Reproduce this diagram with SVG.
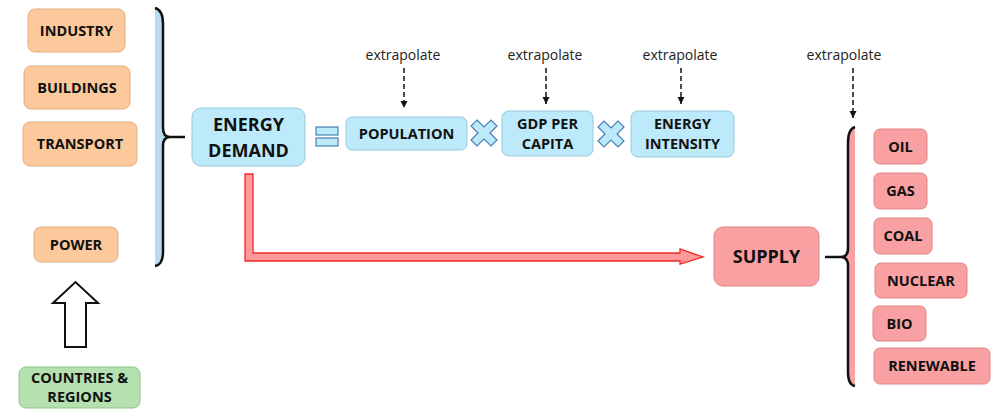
<svg xmlns="http://www.w3.org/2000/svg" width="998" height="409" viewBox="0 0 998 409">
<defs>
<style>
.t{font-family:"Open Sans","Liberation Sans",sans-serif;font-weight:700;fill:#111;text-anchor:middle}
.s{font-size:14.5px}
.b{font-size:18px}
.x{font-family:"Open Sans","Liberation Sans",sans-serif;font-size:14px;fill:#222;text-anchor:middle}
.or{fill:#FBC99B;stroke:#E2AE82;stroke-width:1}
.bl{fill:#BDEAFA;stroke:#98C8DA;stroke-width:1}
.pk{fill:#F8A0A2;stroke:#E08587;stroke-width:1}
.gr{fill:#B5E0AF;stroke:#8FC28A;stroke-width:1}
.dash{stroke:#111;stroke-width:1.5;stroke-dasharray:5,3;fill:none}
.cross{fill:#BDEAFA;stroke:#4A7FB5;stroke-width:1.2}
</style>
<marker id="ah" viewBox="0 0 10 10" refX="10" refY="5" markerWidth="5" markerHeight="5" orient="auto" markerUnits="strokeWidth">
<path d="M0,0 L10,5 L0,10 z" fill="#111"/>
</marker>
</defs>
<rect width="998" height="409" fill="#fff"/>

<g id="industry"><rect class="or" x="28" y="9" width="97" height="43" rx="7"/><text class="t s" x="76.5" y="35.5">INDUSTRY</text></g>
<g id="buildings"><rect class="or" x="24" y="66" width="106" height="43" rx="7"/><text class="t s" x="77" y="92.5">BUILDINGS</text></g>
<g id="transport"><rect class="or" x="23" y="122" width="114" height="44" rx="7"/><text class="t s" x="80" y="149">TRANSPORT</text></g>
<g id="power"><rect class="or" x="34" y="227" width="84" height="35" rx="7"/><text class="t s" x="76" y="249.5">POWER</text></g>
<g id="countries"><rect class="gr" x="19" y="367" width="121" height="41" rx="7"/><text class="t s" x="79.5" y="383">COUNTRIES &amp;</text><text class="t s" x="79.5" y="402">REGIONS</text></g>

<g id="demand-brace">
<path d="M155,8 Q163,10 163,24 L163,128 Q163,137 170,137 Q163,137 163,146 L163,252 Q163,265 155,266 Z" fill="#B8DCF0"/>
<path d="M155,8 Q163,10 163,24 L163,128 Q163,137 170,137 L185,137 M170,137 Q163,137 163,146 L163,252 Q163,265 155,266" fill="none" stroke="#111" stroke-width="2.5"/>
</g>

<g id="energy-demand"><rect class="bl" x="192" y="108" width="113" height="58" rx="9"/><text class="t b" x="248.5" y="131">ENERGY</text><text class="t b" x="248.5" y="157">DEMAND</text></g>

<g id="equals">
<rect x="316" y="127" width="22" height="8" fill="#BDEAFA" stroke="#4A7FB5" stroke-width="1.2"/>
<rect x="316" y="138" width="22" height="8" fill="#BDEAFA" stroke="#4A7FB5" stroke-width="1.2"/>
</g>

<g id="population"><rect class="bl" x="346" y="117" width="121" height="33" rx="6"/><text class="t s" x="406.5" y="138.5">POPULATION</text></g>

<g id="times1"><path class="cross" transform="translate(484,133)" d="M-7,-13 L0,-6 L7,-13 L13,-7 L6,0 L13,7 L7,13 L0,6 L-7,13 L-13,7 L-6,0 L-13,-7 Z"/></g>

<g id="gdp"><rect class="bl" x="502" y="111" width="91" height="45" rx="7"/><text class="t s" x="547.5" y="129">GDP PER</text><text class="t s" x="547.5" y="149">CAPITA</text></g>

<g id="times2"><path class="cross" transform="translate(611,134)" d="M-7,-13 L0,-6 L7,-13 L13,-7 L6,0 L13,7 L7,13 L0,6 L-7,13 L-13,7 L-6,0 L-13,-7 Z"/></g>

<g id="intensity"><rect class="bl" x="631" y="111" width="103" height="46" rx="7"/><text class="t s" x="682.5" y="129">ENERGY</text><text class="t s" x="682.5" y="149">INTENSITY</text></g>

<g id="labels">
<text class="x" x="403" y="60">extrapolate</text>
<text class="x" x="545" y="60">extrapolate</text>
<text class="x" x="680" y="60">extrapolate</text>
<text class="x" x="844" y="60">extrapolate</text>
</g>

<g id="supply"><rect class="pk" x="714" y="227" width="105" height="59" rx="9"/><text class="t b" x="766.5" y="263">SUPPLY</text></g>

<g id="supply-brace">
<path d="M855,127 Q848,129 848,143 L848,248 Q848,257 841,257 Q848,257 848,266 L848,372 Q848,385 855,386 Z" fill="#F8A0A2"/>
<path d="M855,127 Q848,129 848,143 L848,248 Q848,257 841,257 L825,257 M841,257 Q848,257 848,266 L848,372 Q848,385 855,386" fill="none" stroke="#111" stroke-width="2.5"/>
</g>

<g id="oil"><rect class="pk" x="874" y="129" width="53" height="35" rx="6"/><text class="t s" x="900.5" y="151.5">OIL</text></g>
<g id="gas"><rect class="pk" x="874" y="173" width="53" height="36" rx="6"/><text class="t s" x="900.5" y="196">GAS</text></g>
<g id="coal"><rect class="pk" x="874" y="218" width="58" height="36" rx="6"/><text class="t s" x="903" y="241">COAL</text></g>
<g id="nuclear"><rect class="pk" x="875" y="263" width="92" height="35" rx="6"/><text class="t s" x="921" y="285.5">NUCLEAR</text></g>
<g id="bio"><rect class="pk" x="873" y="306" width="53" height="35" rx="6"/><text class="t s" x="899.5" y="328.5">BIO</text></g>
<g id="renewable"><rect class="pk" x="874" y="348" width="116" height="36" rx="6"/><text class="t s" x="932" y="371">RENEWABLE</text></g>

<g id="connectors">
<line class="dash" x1="404" y1="68" x2="404" y2="108" marker-end="url(#ah)"/>
<line class="dash" x1="546" y1="68" x2="546" y2="104" marker-end="url(#ah)"/>
<line class="dash" x1="681" y1="68" x2="681" y2="104" marker-end="url(#ah)"/>
<line class="dash" x1="853" y1="68" x2="853" y2="118" marker-end="url(#ah)"/>
<path d="M245,174 L253,174 L253,253 L680,253 L680,249 L703,257 L680,264 L680,261 L245,261 Z" fill="#FF9A9A" stroke="#F02828" stroke-width="1.3"/>
<path d="M65,347 L65,303 L53,303 L75.5,282 L98,303 L86,303 L86,347 Z" fill="#fff" stroke="#111" stroke-width="2"/>
</g>
</svg>
